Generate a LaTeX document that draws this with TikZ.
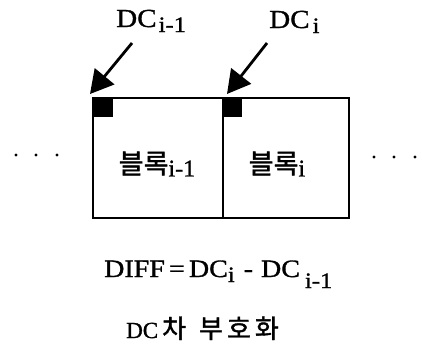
\documentclass[tikz,border=0pt]{standalone}
\usepackage{fontspec}
\setmainfont{Liberation Serif}[FakeBold=1.2]
\newfontfamily\wide{Liberation Serif}[FakeBold=1.2,FakeStretch=1.12]
\newfontfamily\kr{Noto Sans CJK KR}[FakeBold=1.5]
\usetikzlibrary{arrows.meta}
\begin{document}
\begin{tikzpicture}[x=1pt,y=-1pt,
  blk/.style={draw,line width=1.6pt,minimum height=120pt,inner sep=0pt,anchor=north west},
  dcsq/.style={fill=black,minimum size=20pt,inner sep=0pt,anchor=north west},
  bigarrow/.style={line width=2.8pt,-{Triangle[length=23pt,width=25pt]}},
  dot/.style={circle,fill=black,inner sep=0pt,minimum size=3.4pt},
  lbl/.style={inner sep=0pt,anchor=base west,font=\wide\fontsize{26}{28}\selectfont},
  klbl/.style={inner sep=0pt,font=\fontsize{27}{29}\selectfont}
]
\useasboundingbox (0,0) rectangle (422,349);
\node[blk,minimum width=130pt] (b1) at (92,97) {};
\node[blk,minimum width=126pt] (b2) at (222,97) {};
\node[dcsq,minimum width=21pt] (s1) at (92,97) {};
\node[dcsq] (s2) at (222,97) {};
\node[klbl] (t1) at (157,164) {{\kr 블록}\raisebox{-3pt}{\fontsize{24}{26}\selectfont i-1}};
\node[klbl] (t2) at (277,164) {{\kr 블록}\raisebox{-3pt}{\fontsize{24}{26}\selectfont i}};
\node[lbl] (l1) at (116,27) {DC\hspace{2pt}\raisebox{-5pt}{\fontsize{22}{24}\selectfont i-1}};
\node[lbl] (l2) at (269,28) {DC\hspace{3pt}\raisebox{-5pt}{\fontsize{22}{24}\selectfont i}};
\coordinate (a1) at (132,43);
\coordinate (a2) at (267,43);
\coordinate (e1) at (90,94);
\coordinate (e2) at (227,94);
\draw[bigarrow] (a1) -- (e1);
\draw[bigarrow] (a2) -- (e2);
\node[dot] (d1) at (16,155) {};
\node[dot] (d2) at (36,155) {};
\node[dot] (d3) at (57,155) {};
\node[dot] (d4) at (374,157) {};
\node[dot] (d5) at (394,157) {};
\node[dot] (d6) at (415,157) {};
\node[inner sep=0pt,anchor=base west,font=\wide\fontsize{25}{27}\selectfont] (f) at (104,277) {DIFF\,=\,DC\raisebox{-5pt}{\fontsize{22}{24}\selectfont i}\hspace{2pt} - \hspace{1pt}DC\hspace{5pt}\raisebox{-11pt}{\fontsize{22}{24}\selectfont i-1}};
\node[inner sep=0pt,anchor=base west,font=\fontsize{23}{25}\selectfont] (c1) at (126,338) {DC};
\node[inner sep=0pt,anchor=base west,font=\kr\fontsize{26}{28}\selectfont] (c2) at (162,338) {차\hspace{13pt}부\hspace{4pt}호\hspace{4pt}화};
\end{tikzpicture}
\end{document}
